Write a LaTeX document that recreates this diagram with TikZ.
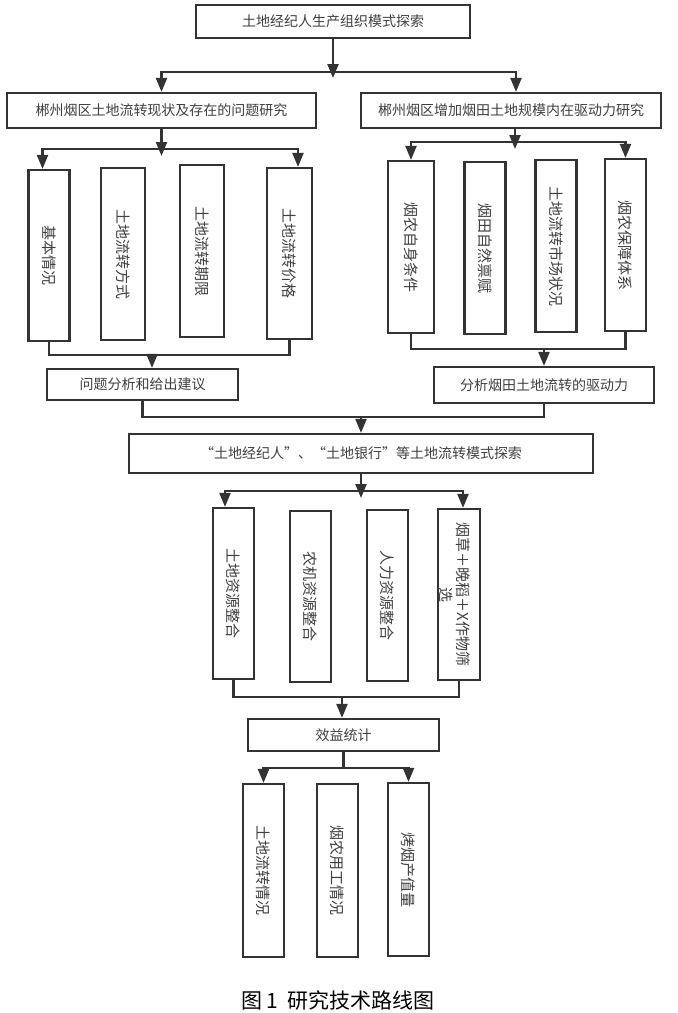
\documentclass[tikz,border=0pt]{standalone}
\usepackage{fontspec}
\setmainfont{Noto Sans CJK SC}
\usetikzlibrary{arrows.meta}
\definecolor{lnc}{HTML}{333333}
\definecolor{txc}{HTML}{404040}
\begin{document}
\begin{tikzpicture}[x=1pt,y=-1pt,
  hbox/.style={draw=lnc, line width=2.2pt, inner sep=0pt, text=txc, font=\fontsize{14}{16}\selectfont},
  vbox/.style={draw=lnc, line width=2.2pt, inner sep=0pt, minimum height=172pt},
  vtext/.style={rotate=-90, text=txc, font=\fontsize{15}{17}\selectfont, inner sep=0pt, align=center},
  wire/.style={draw=lnc, line width=2.2pt},
  arr/.style={wire, -{Triangle[width=11pt,length=14pt]}}]
\fill[white] (0,0) rectangle (678,1013);
\useasboundingbox (0,0) rectangle (678,1013);

% top
\node[hbox, minimum width=274pt, minimum height=33pt] (top) at (333,21.5) {土地经纪人生产组织模式探索};
\node[hbox, minimum width=309pt, minimum height=35pt] (L1) at (161.5,110.5) {郴州烟区土地流转现状及存在的问题研究};
\node[hbox, minimum width=300pt, minimum height=35pt] (R1) at (511,110.5) {郴州烟区增加烟田土地规模内在驱动力研究};

% left vertical boxes
\node[vbox, minimum width=41pt, minimum height=171pt] (a1) at (49,255.5) {};
\node[vtext] (a1t) at (a1) {基本情况};
\node[vbox, minimum width=44pt] (a2) at (123,254) {};
\node[vtext] (a2t) at (a2) {土地流转方式};
\node[vbox, minimum width=43.5pt] (a3) at (202,251) {};
\node[vtext] (a3t) at (a3) {土地流转期限};
\node[vbox, minimum width=45pt, minimum height=171pt] (a4) at (289.5,253.5) {};
\node[vtext] (a4t) at (a4) {土地流转价格};

% right vertical boxes
\node[vbox, minimum width=46pt] (b1) at (411,247) {};
\node[vtext] (b1t) at (b1) {烟农自身条件};
\node[vbox, minimum width=41pt] (b2) at (485,248) {};
\node[vtext] (b2t) at (b2) {烟田自然禀赋};
\node[vbox, minimum width=41pt] (b3) at (556,246) {};
\node[vtext] (b3t) at (b3) {土地流转市场状况};
\node[vbox, minimum width=41pt] (b4) at (625.5,245) {};
\node[vtext] (b4t) at (b4) {烟农保障体系};

% analysis boxes
\node[hbox, minimum width=191pt, minimum height=31pt] (q) at (142.5,384.5) {问题分析和给出建议};
\node[hbox, minimum width=220pt, minimum height=36pt] (f) at (544,385) {分析烟田土地流转的驱动力};

% big box
\node[hbox, minimum width=464pt, minimum height=39pt] (m) at (361,453.5) {“土地经纪人”、“土地银行”等土地流转模式探索};

% middle vertical boxes
\node[vbox, minimum width=41pt, minimum height=171pt] (c1) at (233.5,593.5) {};
\node[vtext] (c1t) at (c1) {土地资源整合};
\node[vbox, minimum width=41pt, minimum height=171pt] (c2) at (310.5,596.5) {};
\node[vtext] (c2t) at (c2) {农机资源整合};
\node[vbox, minimum width=41pt, minimum height=171pt] (c3) at (387.5,595.5) {};
\node[vtext] (c3t) at (c3) {人力资源整合};
\node[vbox, minimum width=42pt, minimum height=171pt] (c4) at (459,594.5) {};
\node[vtext] (c4t) at ([xshift=-4pt]c4.center) {烟草＋晚稻＋X作物筛\\选};

% benefit
\node[hbox, minimum width=191pt, minimum height=32pt] (e) at (343.5,735) {效益统计};
\node[vbox, minimum width=41pt, minimum height=173pt] (d1) at (263.5,870.5) {};
\node[vtext] (d1t) at (d1) {土地流转情况};
\node[vbox, minimum width=41pt, minimum height=173pt] (d2) at (337.5,870.5) {};
\node[vtext] (d2t) at (d2) {烟农用工情况};
\node[vbox, minimum width=41pt, minimum height=173pt] (d3) at (408.5,869.5) {};
\node[vtext] (d3t) at (d3) {烤烟产值量};

% caption
\node[font=\fontsize{21}{24}\selectfont, text=black, inner sep=0pt] (cap) at (338,1000) {图 1\ \ 研究技术路线图};

% connectors: top
\coordinate (j0) at (333,72);
\coordinate (jt0) at (333,78);
\draw[arr] (top.south) -- (jt0);
\draw[arr] (j0) -| (L1.north);
\draw[arr] (j0) -| ([xshift=5pt]R1.north);

% left branch
\coordinate (j1) at (161.5,149);
\coordinate (jt1) at (161.5,156);
\draw[arr] (L1.south) -- (jt1);
\draw[arr] (j1) -| ([xshift=-6.5pt]a1.north);
\draw[arr] (j1) -| ([xshift=8.5pt]a4.north);
\coordinate (m1) at (152,355);
\draw[wire] (a1.south) |- (m1) -| (a4.south);
\draw[arr] (m1) -- ([xshift=9.5pt]q.north);

% right branch
\coordinate (j2) at (515,142);
\coordinate (jt2) at (515,149);
\draw[arr] ([xshift=4pt]R1.south) -- (jt2);
\draw[arr] (j2) -| (b1.north);
\draw[arr] (j2) -| (b4.north);
\coordinate (m2) at (544,349);
\draw[wire] (b1.south) |- (m2) -| (b4.south);
\draw[arr] (m2) -- (f.north);

% merge to big box
\coordinate (m3) at (361,417);
\draw[wire] (q.south) |- (m3) -| (f.south);
\draw[arr] (m3) -- (m.north);

% below big box
\coordinate (j3) at (361,491);
\coordinate (jt3) at (361,498);
\draw[arr] (m.south) -- (jt3);
\draw[arr] (j3) -| ([xshift=-8.5pt]c1.north);
\draw[arr] (j3) -| ([xshift=4pt]c4.north);
\coordinate (m4) at (342,697);
\draw[wire] (c1.south) |- (m4) -| (c4.south);
\draw[arr] (m4) -- ([xshift=-1.5pt]e.north);

% benefit branch
\coordinate (j4) at (343.5,768);
\draw[wire] (e.south) -- (j4);
\draw[arr] (j4) -| (d1.north);
\draw[arr] (j4) -| (d3.north);
\end{tikzpicture}
\end{document}
